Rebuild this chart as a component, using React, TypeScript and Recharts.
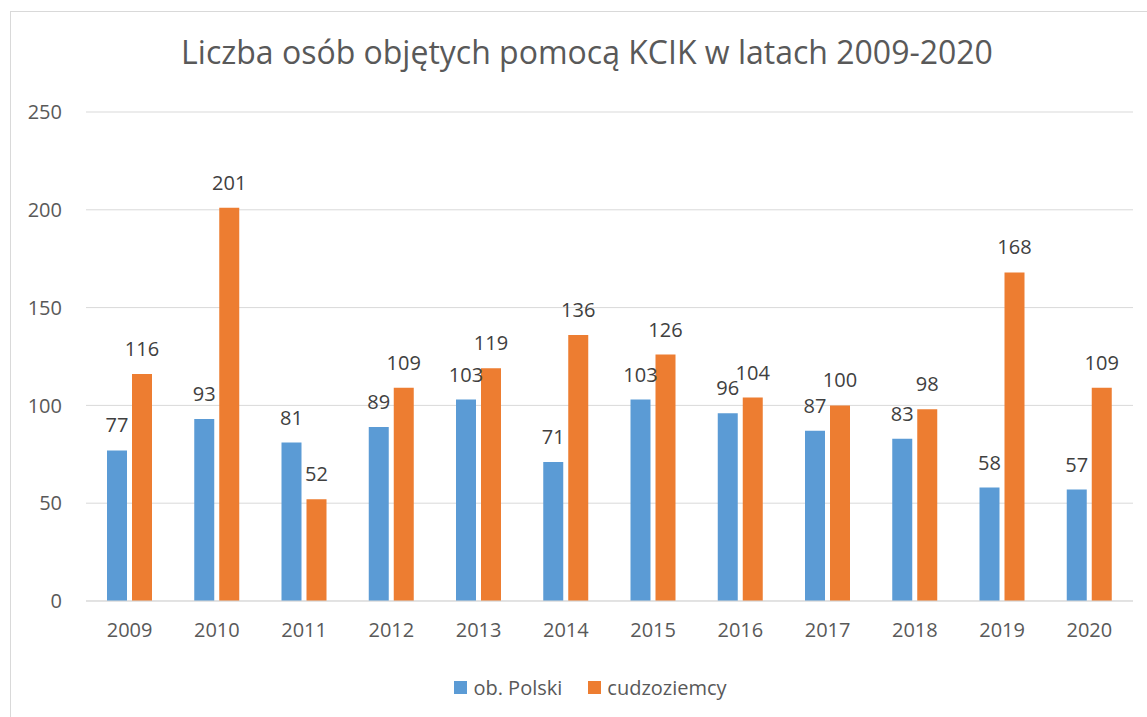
import { Bar, BarChart, CartesianGrid, LabelList, XAxis, YAxis } from "recharts";

const years = ["2009", "2010", "2011", "2012", "2013", "2014", "2015", "2016", "2017", "2018", "2019", "2020"];
const polish = [77, 93, 81, 89, 103, 71, 103, 96, 87, 83, 58, 57];
const foreigners = [116, 201, 52, 109, 119, 136, 126, 104, 100, 98, 168, 109];
const yTicks = [0, 50, 100, 150, 200, 250];

const BLUE = "#5B9BD5";
const ORANGE = "#ED7D31";
const TEXT = "#595959";
const GRID = "#D9D9D9";
const FONT = "'Open Sans', sans-serif";

const rows = years.map((year, i) => ({
  year,
  polish: polish[i],
  foreigners: foreigners[i],
}));

const legendItems = [
  { label: "ob. Polski", color: BLUE },
  { label: "cudzoziemcy", color: ORANGE },
];

export default function App() {
  return (
    <div
      style={{
        position: "fixed",
        left: 0,
        top: 0,
        width: 1147,
        height: 717,
        overflow: "hidden",
        background: "#fff",
        fontFamily: FONT,
      }}
    >
      <div
        style={{
          position: "absolute",
          left: 10,
          top: 11,
          width: 1160,
          height: 740,
          border: `1px solid ${GRID}`,
        }}
      />
      <div
        style={{
          position: "absolute",
          left: 10,
          top: 32,
          width: 1154,
          textAlign: "center",
          fontSize: 32,
          color: TEXT,
          lineHeight: "40px",
        }}
      >
        Liczba osób objętych pomocą KCIK w latach 2009-2020
      </div>
      <div style={{ position: "absolute", left: 0, top: 0 }}>
        <BarChart
          width={1147}
          height={717}
          data={rows}
          margin={{ top: 112, right: 14, bottom: 86, left: 0 }}
          barSize={20}
          barGap={5}
        >
          <CartesianGrid vertical={false} stroke={GRID} />
          <XAxis
            dataKey="year"
            axisLine={{ stroke: GRID }}
            tickLine={false}
            tickSize={0}
            tickMargin={22}
            tick={{ fill: TEXT, fontSize: 20, fontFamily: FONT }}
            height={30}
          />
          <YAxis
            domain={[0, 250]}
            ticks={yTicks}
            axisLine={false}
            tickLine={false}
            tickSize={0}
            tickMargin={24}
            width={86}
            tick={{ fill: TEXT, fontSize: 20, fontFamily: FONT }}
          />
          <Bar dataKey="polish" fill={BLUE} isAnimationActive={false}>
            <LabelList dataKey="polish" position="top" offset={18} fill="#404040" fontSize={20} fontFamily={FONT} />
          </Bar>
          <Bar dataKey="foreigners" fill={ORANGE} isAnimationActive={false}>
            <LabelList dataKey="foreigners" position="top" offset={18} fill="#404040" fontSize={20} fontFamily={FONT} />
          </Bar>
        </BarChart>
      </div>
      <div
        style={{
          position: "absolute",
          left: 0,
          top: 674,
          width: 1147,
          paddingLeft: 34,
          boxSizing: "border-box",
          display: "flex",
          justifyContent: "center",
          alignItems: "center",
          gap: 26,
          fontSize: 20,
          color: TEXT,
        }}
      >
        {legendItems.map((item) => (
          <div key={item.label} style={{ display: "flex", alignItems: "center", gap: 6 }}>
            <span style={{ width: 13, height: 13, background: item.color, display: "inline-block" }} />
            <span>{item.label}</span>
          </div>
        ))}
      </div>
    </div>
  );
}
